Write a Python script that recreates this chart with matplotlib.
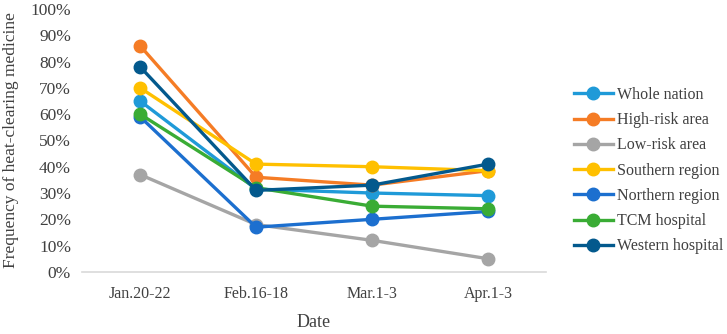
import matplotlib
matplotlib.use("Agg")
import matplotlib.pyplot as plt
from matplotlib.ticker import PercentFormatter

dates = ["Jan.20-22", "Feb.16-18", "Mar.1-3", "Apr.1-3"]
whole_nation = [65, 31.5, 30, 29]
high_risk = [86, 36, 33, 38.5]
low_risk = [37, 18, 12, 5]
southern = [70, 41, 40, 38.5]
northern = [59, 17, 20, 23]
tcm = [60, 32, 25, 24]
western = [78, 31, 33, 41]

series = [
    ("Whole nation", whole_nation, "#1f9ad8"),
    ("High-risk area", high_risk, "#f57c25"),
    ("Low-risk area", low_risk, "#a5a5a5"),
    ("Southern region", southern, "#ffc000"),
    ("Northern region", northern, "#1c6fcf"),
    ("TCM hospital", tcm, "#3aac35"),
    ("Western hospital", western, "#03598d"),
]

plt.rcParams["font.family"] = ["Liberation Serif", "DejaVu Serif"]

fig = plt.figure(figsize=(7.27, 3.34), dpi=100)
ax = fig.add_axes([0.113, 0.186, 0.638, 0.787])

x = list(range(len(dates)))
for name, vals, col in series:
    ax.plot(x, vals, color=col, lw=2.4, marker="o", ms=9, label=name)

ax.set_ylim(0, 100)
ax.set_yticks(range(0, 101, 10))
ax.yaxis.set_major_formatter(PercentFormatter(decimals=0))
ax.set_xlim(-0.5, 3.5)
ax.set_xticks(x)
ax.set_xticklabels(dates)
for s in ["top", "right", "left"]:
    ax.spines[s].set_visible(False)
ax.spines["bottom"].set_color("#d9d9d9")
ax.spines["bottom"].set_linewidth(1.2)
ax.tick_params(length=0, labelsize=11.5, colors="#404040", pad=10)
ax.tick_params(axis="y", labelsize=12.5, pad=8)

ax.set_ylabel("Frequency of heat-clearing medicine", fontsize=12.5, color="#404040", labelpad=8)
ax.set_xlabel("Date", fontsize=13, color="#404040", labelpad=9)

ax.legend(loc="center left", bbox_to_anchor=(1.03, 0.385), frameon=False,
          fontsize=11.5, handlelength=2.4, labelspacing=0.58, handletextpad=0.3,
          borderaxespad=0.5, labelcolor="#404040")

fig.savefig("out.png", dpi=100)
